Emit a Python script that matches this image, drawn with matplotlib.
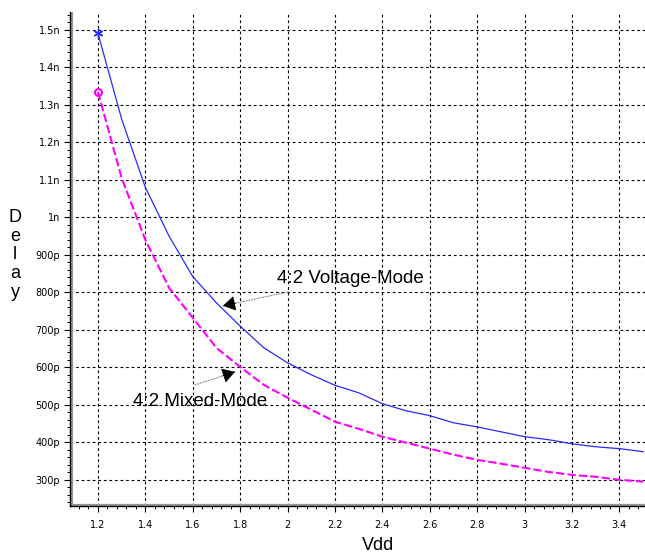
import matplotlib
matplotlib.use("Agg")
import matplotlib.pyplot as plt
from matplotlib.ticker import MultipleLocator, FixedLocator, FixedFormatter
import numpy as np

vdd = [1.2, 1.3, 1.4, 1.5, 1.6, 1.7, 1.8, 1.9, 2.0, 2.1, 2.2, 2.3, 2.4, 2.5,
       2.6, 2.7, 2.8, 2.9, 3.0, 3.1, 3.2, 3.3, 3.4, 3.5]
# delay in picoseconds
voltage_mode = [1491, 1262, 1080, 950, 842, 772, 710, 652, 612, 580, 552, 532,
                503, 484, 471, 452, 441, 428, 415, 407, 396, 388, 383, 375]
mixed_mode = [1335, 1105, 940, 812, 732, 652, 601, 553, 519, 487, 455, 436,
              415, 399, 383, 367, 353, 343, 332, 321, 313, 308, 300, 295]

ytick_vals = [300, 400, 500, 600, 700, 800, 900, 1000, 1100, 1200, 1300, 1400, 1500]
ytick_labels = ["300p", "400p", "500p", "600p", "700p", "800p", "900p", "1n",
                "1.1n", "1.2n", "1.3n", "1.4n", "1.5n"]
xtick_vals = [1.2, 1.4, 1.6, 1.8, 2.0, 2.2, 2.4, 2.6, 2.8, 3.0, 3.2, 3.4]
xtick_labels = ["1.2", "1.4", "1.6", "1.8", "2", "2.2", "2.4", "2.6", "2.8", "3", "3.2", "3.4"]

fig = plt.figure(figsize=(6.45, 5.52), dpi=100)
ax = fig.add_axes([70/645, 1-506/552, 575/645, (506-12)/552])

ax.plot(vdd, voltage_mode, color="#2a2aff", lw=0.9, marker=(6, 2, 0),
        markevery=[0], ms=7, mew=1.0, zorder=3)
ax.plot(vdd, mixed_mode, color="#ff00ff", lw=1.5, dashes=(4, 1.5),
        marker="o", markevery=[0], ms=5, mfc="none", mew=1.5, zorder=3)

ax.set_xlim(1.082, 3.508)
ax.set_ylim(230, 1548)

ax.xaxis.set_major_locator(FixedLocator(xtick_vals))
ax.xaxis.set_major_formatter(FixedFormatter(xtick_labels))
ax.xaxis.set_minor_locator(MultipleLocator(0.04))
ax.yaxis.set_major_locator(FixedLocator(ytick_vals))
ax.yaxis.set_major_formatter(FixedFormatter(ytick_labels))
ax.yaxis.set_minor_locator(MultipleLocator(20))

ax.grid(True, which="major", color="black", lw=0.8, dashes=(2.5, 2.5))
ax.set_axisbelow(True)

for s in ["top", "right"]:
    ax.spines[s].set_visible(False)
for s in ["left", "bottom"]:
    ax.spines[s].set_color("black")
    ax.spines[s].set_linewidth(1.0)

# inner gray line next to spines
ax.axvline(1.082 + 0.007, color="#999999", lw=1.6, zorder=2)
ax.axhline(230 + 4, color="#999999", lw=1.6, zorder=2)

ax.tick_params(axis="both", which="major", direction="out", length=4, width=0.8,
               labelsize=7, colors="black")
ax.tick_params(axis="both", which="minor", direction="out", length=2.5, width=0.7)
ax.tick_params(axis="y", pad=3)
ax.tick_params(axis="x", pad=6)

fig.text(15/645, 1-255/552, "D\ne\nl\na\ny", ha="center", va="center",
         fontsize=13, family="Liberation Sans", linespacing=1.15)
fig.text(378/645, 1-545/552, "Vdd", ha="center", va="center",
         fontsize=13, family="Liberation Sans")

ax.text(1.955, 836, "4:2 Voltage-Mode", fontsize=13.5, family="Liberation Sans",
        va="center", ha="left")
ax.text(1.348, 510, "4:2 Mixed-Mode", fontsize=13.5, family="Liberation Sans",
        va="center", ha="left")


def arrow(start, tip):
    # dotted gray shaft
    ax.annotate("", xy=tip, xytext=start,
                arrowprops=dict(arrowstyle="-", color="#888888", lw=0.8,
                                linestyle=(0, (1, 1.5)), shrinkA=0, shrinkB=0))
    # solid black head
    sx, sy = ax.transData.transform(start)
    tx, ty = ax.transData.transform(tip)
    d = np.hypot(tx - sx, ty - sy)
    f = 13.0 / d
    hx, hy = tx - (tx - sx) * f, ty - (ty - sy) * f
    hstart = ax.transData.inverted().transform((hx, hy))
    ax.annotate("", xy=tip, xytext=tuple(hstart),
                arrowprops=dict(arrowstyle="-|>,head_length=0.5,head_width=0.3",
                                color="black", lw=0.5, mutation_scale=16,
                                shrinkA=0, shrinkB=0))


arrow((2.0017, 801), (1.727, 764))
arrow((1.609, 553), (1.778, 588))

fig.savefig("out.png", dpi=100)
